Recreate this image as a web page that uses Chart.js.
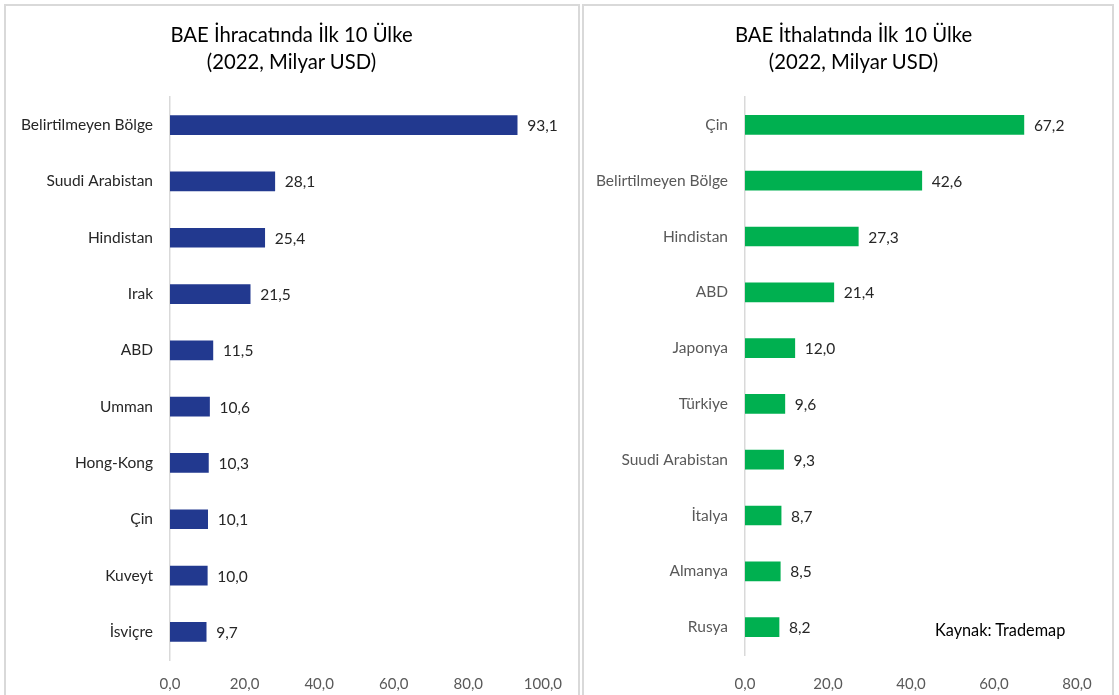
<!DOCTYPE html>
<html>
<head>
<meta charset="utf-8">
<script src="https://cdn.jsdelivr.net/npm/chart.js@4/dist/chart.umd.min.js"></script>
<style>
  html, body { margin: 0; padding: 0; background: #ffffff; width: 1119px; height: 695px; overflow: hidden; font-family: Lato, "Open Sans", sans-serif; }
  .panel { position: absolute; border: 2px solid #d9d9d9; box-sizing: border-box; background: #fff; }
  .cv { position: absolute; }
  .title { position: absolute; text-align: center; font-family: Lato, sans-serif; font-size: 20.3px; line-height: 27px; color: #000; white-space: nowrap; }
  #source { position: absolute; left: 935px; top: 620px; font-family: Lato, sans-serif; font-size: 16.3px; color: #000; white-space: nowrap; }
</style>
</head>
<body>
<div class="panel" style="left:4px; top:4px; width:576px; height:720px;"></div>
<div class="panel" style="left:582px; top:4px; width:532px; height:720px;"></div>
<div class="cv" style="left:6px; top:6px; width:571px; height:689px;"><canvas id="c1"></canvas></div>
<div class="cv" style="left:585px; top:6px; width:527px; height:689px;"><canvas id="c2"></canvas></div>
<div class="title" id="t1" style="left:6px; top:21px; width:571px;"></div>
<div class="title" id="t2" style="left:590px; top:21px; width:527px;"></div>
<div id="source">Kaynak: Trademap</div>
<script>
const exportTitle = ["BAE İhracatında İlk 10 Ülke", "(2022, Milyar USD)"];
const exportCategories = ["Belirtilmeyen Bölge", "Suudi Arabistan", "Hindistan", "Irak", "ABD", "Umman", "Hong-Kong", "Çin", "Kuveyt", "İsviçre"];
const exportValues = [93.1, 28.1, 25.4, 21.5, 11.5, 10.6, 10.3, 10.1, 10.0, 9.7];
const exportTicks = [0, 20, 40, 60, 80, 100];

const importTitle = ["BAE İthalatında İlk 10 Ülke", "(2022, Milyar USD)"];
const importCategories = ["Çin", "Belirtilmeyen Bölge", "Hindistan", "ABD", "Japonya", "Türkiye", "Suudi Arabistan", "İtalya", "Almanya", "Rusya"];
const importValues = [67.2, 42.6, 27.3, 21.4, 12.0, 9.6, 9.3, 8.7, 8.5, 8.2];
const importTicks = [0, 20, 40, 60, 80];

document.getElementById('t1').innerHTML = exportTitle.join('<br>');
document.getElementById('t2').innerHTML = importTitle.join('<br>');

const fmt = v => Number(v).toFixed(1).replace('.', ',');
const FONT = 'Lato, "Open Sans", sans-serif';

const valueLabels = {
  id: 'valueLabels',
  afterDatasetsDraw(chart) {
    const ctx = chart.ctx;
    ctx.save();
    ctx.font = '15.5px ' + FONT;
    ctx.fillStyle = '#262626';
    ctx.textBaseline = 'middle';
    ctx.textAlign = 'left';
    chart.data.datasets.forEach((ds, di) => {
      chart.getDatasetMeta(di).data.forEach((bar, i) => {
        ctx.fillText(fmt(ds.data[i]), bar.x + 10, bar.y + 1);
      });
    });
    ctx.restore();
  }
};

function makeChart(id, cats, vals, ticks, color, opts) {
  return new Chart(document.getElementById(id), {
    type: 'bar',
    data: {
      labels: cats,
      datasets: [{ data: vals, backgroundColor: color, barThickness: 19, borderWidth: 0 }]
    },
    plugins: [valueLabels],
    options: {
      indexAxis: 'y',
      responsive: true,
      maintainAspectRatio: false,
      animation: false,
      layout: { padding: { left: 0, right: opts.padRight, top: 91, bottom: 0 } },
      plugins: {
        legend: { display: false },
        tooltip: { enabled: false },
        title: { display: false }
      },
      scales: {
        x: {
          min: 0,
          max: ticks[ticks.length - 1],
          afterBuildTicks: s => { s.ticks = ticks.map(v => ({ value: v })); },
          grid: { display: false, drawTicks: false },
          border: { display: false },
          ticks: {
            color: '#595959',
            font: { family: FONT, size: 15 },
            padding: opts.xPad,
            maxRotation: 0,
            callback: v => fmt(v)
          },
          afterFit: s => { s.height = opts.xHeight; }
        },
        y: {
          grid: { display: false, drawTicks: false },
          border: { display: true, color: '#d9d9d9', width: 1.5 },
          ticks: {
            color: opts.yColor,
            font: { family: FONT, size: 15.5 },
            padding: 17
          },
          afterFit: s => { s.width = opts.yWidth; }
        }
      }
    }
  });
}

makeChart('c1', exportCategories, exportValues, exportTicks, '#22398f',
  { padRight: 34, yWidth: 164, xHeight: 35, xPad: 15, yColor: '#262626' });
makeChart('c2', importCategories, importValues, importTicks, '#00b050',
  { padRight: 35, yWidth: 160, xHeight: 40, xPad: 20, yColor: '#595959' });
</script>
</body>
</html>
